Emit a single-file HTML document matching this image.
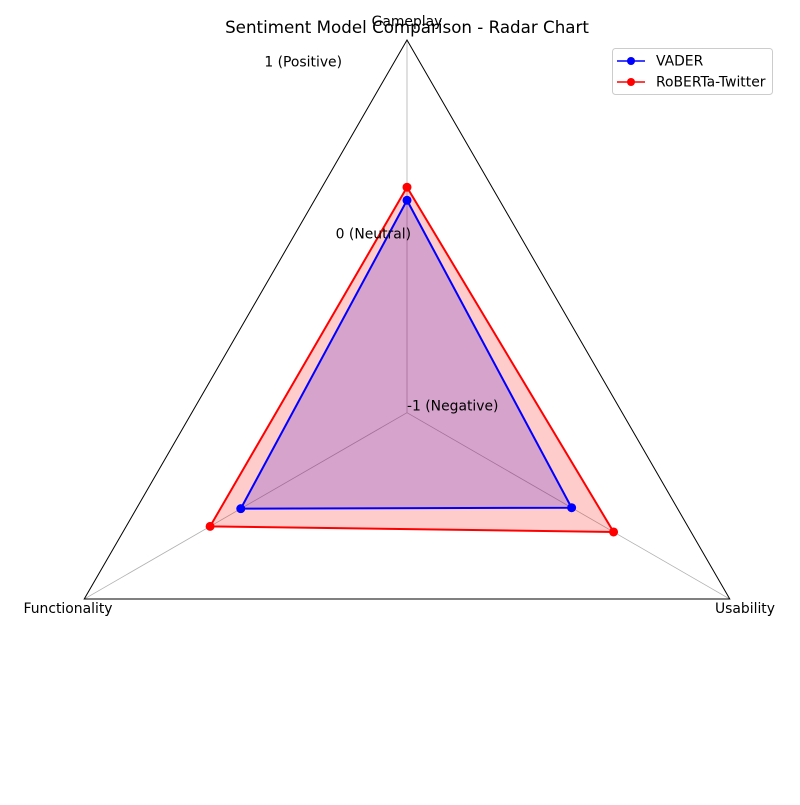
<!DOCTYPE html>
<html><head><meta charset="utf-8"><style>
body{margin:0;background:#fff;}
svg text{font-family:"DejaVu Sans","Liberation Sans",sans-serif;}
</style></head><body>
<svg id="chart" width="800" height="800" viewBox="0 0 800 800">
<rect width="800" height="800" fill="#fff"/>
<g id="grid"></g>
<g id="fills"></g>
<g id="series"></g>
<g id="labels"></g>
<text x="407" y="33" font-size="16.7" text-anchor="middle">Sentiment Model Comparison - Radar Chart</text>
<g>
<rect x="612.5" y="48.5" width="160" height="46" rx="3" fill="#fff" fill-opacity="0.8" stroke="#ccc"/>
<line x1="617" y1="61" x2="645" y2="61" stroke="blue" stroke-width="1.5"/>
<circle cx="631" cy="61" r="4" fill="blue"/>
<text x="656" y="65.5" font-size="13.9">VADER</text>
<line x1="617" y1="82" x2="645" y2="82" stroke="red" stroke-width="1.5"/>
<circle cx="631" cy="82" r="4" fill="red"/>
<text x="656" y="86.5" font-size="13.9">RoBERTa-Twitter</text>
</g>
</svg>
<script>
const categories = ["Gameplay", "Usability", "Functionality"];
const vaderValues = [0.14, 0.02, 0.03];
const robertaValues = [0.21, 0.28, 0.22];
const rTicks = [-1, 0, 1];
const rTickLabels = ["-1 (Negative)", "0 (Neutral)", "1 (Positive)"];

const NS = "http://www.w3.org/2000/svg";
const cx = 407, cy = 412.7, R = 372.7, rMin = -1, rMax = 1;
function rScale(v){ return (v - rMin) / (rMax - rMin) * R; }
function angle(i){ return -Math.PI/2 + i * 2*Math.PI/categories.length; }
function pt(i, v){ const r = rScale(v), a = angle(i); return [cx + r*Math.cos(a), cy + r*Math.sin(a)]; }
function mk(tag, attrs, parent){ const e = document.createElementNS(NS, tag); for (const k in attrs) e.setAttribute(k, attrs[k]); parent.appendChild(e); return e; }

const grid = document.getElementById("grid");
categories.forEach((c, i) => {
  const [x, y] = pt(i, rMax);
  const l = mk("line", {x1: cx, y1: cy, x2: x, y2: y, stroke: "#b0b0b0", "stroke-width": 0.8}, grid);
  
  
});
const frame = mk("polygon", {points: categories.map((c, i) => pt(i, rMax).join(",")).join(" "), fill: "none", stroke: "#000", "stroke-width": 1}, grid);



const fillsG = document.getElementById("fills");
const seriesG = document.getElementById("series");
function drawFill(vals, color, name){
  const pts = vals.map((v, i) => pt(i, v));
  const p = mk("polygon", {points: pts.map(p => p.join(",")).join(" "), fill: color, "fill-opacity": 0.2, stroke: "none"}, fillsG);
  
  
}
function drawLine(vals, color, name){
  const pts = vals.map((v, i) => pt(i, v));
  const p = mk("polygon", {points: pts.map(p => p.join(",")).join(" "), fill: "none", stroke: color, "stroke-width": 2}, seriesG);
  
  
  pts.forEach((q, i) => {
    const c = mk("circle", {cx: q[0], cy: q[1], r: 4.5, fill: color}, seriesG);
    
    
  });
}
drawFill(vaderValues, "blue", "vader");
drawFill(robertaValues, "red", "roberta");
drawLine(robertaValues, "red", "roberta");
drawLine(vaderValues, "blue", "vader");

const labels = document.getElementById("labels");
const catPos = [[407, 26, "middle"], [745, 613, "middle"], [68, 613, "middle"]];
categories.forEach((c, i) => {
  const t = mk("text", {x: catPos[i][0], y: catPos[i][1], "font-size": 13.9, "text-anchor": catPos[i][2]}, labels);
  t.textContent = c;
  
  
});
const la = -Math.PI/2 - Math.PI/8;
rTicks.forEach((v, i) => {
  const r = rScale(v);
  const x = cx + r*Math.cos(la), y = cy + r*Math.sin(la);
  const t = mk("text", {x: x, y: y - 2, "font-size": 13.9, "text-anchor": "start"}, labels);
  t.textContent = rTickLabels[i];
  
  
});
</script>
</body></html>
